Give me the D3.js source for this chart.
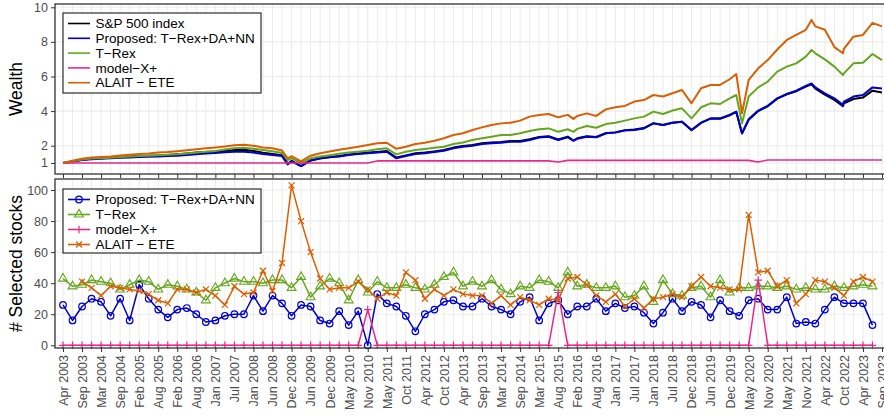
<!DOCTYPE html>
<html>
<head>
<meta charset="utf-8">
<script src="https://d3js.org/d3.v7.min.js"></script>
<style>
  body { margin: 0; background: #fff; }
  svg { display: block; font-family: "Liberation Sans", Arial, Helvetica, sans-serif; }
</style>
</head>
<body>
<div id="chart"></div>
<script>
// x axis labels, one for every second rebalancing date
const xLabels = ["Apr 2003", "Sep 2003", "Mar 2004", "Sep 2004", "Feb 2005", "Aug 2005",
  "Feb 2006", "Aug 2006", "Jan 2007", "Jul 2007", "Jan 2008", "Jun 2008", "Dec 2008",
  "Jun 2009", "Dec 2009", "May 2010", "Nov 2010", "May 2011", "Oct 2011", "Apr 2012",
  "Oct 2012", "Apr 2013", "Sep 2013", "Mar 2014", "Sep 2014", "Mar 2015", "Aug 2015",
  "Feb 2016", "Aug 2016", "Jan 2017", "Jul 2017", "Jan 2018", "Jul 2018", "Dec 2018",
  "Jun 2019", "Dec 2019", "May 2020", "Nov 2020", "May 2021", "Nov 2021", "Apr 2022",
  "Oct 2022", "Apr 2023", "Sep 2023"];

const wealthTicks = [1, 2, 4, 6, 8, 10];
const stockTicks = [0, 20, 40, 60, 80, 100];

// wealth curves, sampled at (fractional) rebalancing positions
const wealthIdx = [0, 1, 2, 3, 4, 5, 6, 7, 8, 9, 10, 11, 12, 13, 14, 15, 16, 17, 18, 19, 20, 21, 22, 23,
  23.6,
  24, 25, 26, 27, 28, 29, 30, 31, 32, 33, 34, 35, 36, 37, 38, 39, 40, 41, 42, 43, 44, 45, 46, 47, 48, 49, 50, 51, 52, 53,
  53.6,
  54, 55, 56, 57, 58, 59, 60, 61, 62, 63, 64, 65, 66, 67, 68, 69, 70,
  70.7, 71.3,
  72, 73, 74, 75, 76, 77, 78,
  78.6, 79, 80, 81, 81.9,
  82, 83, 84, 85, 86];

const wealthSP = [1.0, 1.08, 1.18, 1.25, 1.28, 1.3, 1.34, 1.38, 1.4, 1.42, 1.44, 1.46, 1.5, 1.55, 1.6, 1.64, 1.66, 1.7, 1.75, 1.76, 1.7, 1.6, 1.52, 1.45,
  0.95,
  1.12, 0.82, 1.15, 1.27, 1.35, 1.4, 1.49, 1.55, 1.6, 1.64, 1.69, 1.32, 1.44, 1.56, 1.6, 1.67, 1.75, 1.89, 1.98, 2.04, 2.14, 2.18, 2.21, 2.27, 2.27, 2.37, 2.5, 2.55, 2.36, 2.52,
  2.3,
  2.43, 2.54, 2.5, 2.72, 2.77, 2.9, 2.93, 3.02, 3.3, 3.2, 3.33, 3.38, 2.9, 3.32, 3.56, 3.56, 3.76,
  3.95, 2.7,
  3.5, 4.0, 4.28, 4.72, 4.97, 5.15, 5.42,
  5.55, 5.3, 4.95, 4.65, 4.28,
  4.45, 4.7, 4.78, 5.18, 5.08];

const wealthProposed = [1.0, 1.08, 1.17, 1.22, 1.25, 1.27, 1.3, 1.32, 1.34, 1.36, 1.38, 1.4, 1.42, 1.46, 1.5, 1.55, 1.58, 1.62, 1.65, 1.65, 1.6, 1.52, 1.46, 1.4,
  0.92,
  1.1, 0.82, 1.15, 1.26, 1.33, 1.37, 1.46, 1.52, 1.56, 1.6, 1.65, 1.27, 1.4, 1.52, 1.56, 1.63, 1.71, 1.85, 1.94, 2.0, 2.1, 2.14, 2.17, 2.23, 2.23, 2.33, 2.47, 2.52, 2.33, 2.49,
  2.28,
  2.4, 2.52, 2.49, 2.72, 2.76, 2.88, 2.91, 3.0, 3.29, 3.2, 3.33, 3.39, 2.91, 3.33, 3.58, 3.58, 3.78,
  3.97, 2.72,
  3.53, 4.03, 4.3, 4.74, 4.99, 5.18, 5.45,
  5.6, 5.37, 5.03, 4.74, 4.36,
  4.55, 4.84, 4.93, 5.37, 5.3];

const wealthTRex = [1.0, 1.1, 1.2, 1.26, 1.28, 1.3, 1.35, 1.38, 1.4, 1.42, 1.45, 1.47, 1.5, 1.55, 1.6, 1.65, 1.7, 1.78, 1.85, 1.88, 1.82, 1.75, 1.68, 1.58,
  1.17,
  1.27, 1.0, 1.27, 1.37, 1.45, 1.53, 1.6, 1.65, 1.71, 1.79, 1.85, 1.5, 1.65, 1.75, 1.81, 1.88, 1.94, 2.1, 2.19, 2.33, 2.43, 2.52, 2.62, 2.62, 2.72, 2.85, 2.95, 3.0, 2.81, 2.95,
  2.8,
  2.97, 3.14, 3.04, 3.25, 3.33, 3.45, 3.58, 3.68, 3.97, 3.83, 4.03, 4.16, 3.58, 4.22, 4.45, 4.41, 4.74,
  4.93, 3.29,
  4.84, 5.37, 5.7, 6.28, 6.57, 6.76, 7.15,
  7.53, 7.34, 6.99, 6.57, 6.09,
  6.18, 6.76, 6.8, 7.3, 6.95];

const wealthModelX = [1.0, 1.0, 1.0, 1.0, 1.0, 1.0, 1.0, 1.0, 1.0, 1.0, 1.0, 1.0, 1.0, 1.0, 1.0, 1.0, 1.0, 1.0, 1.0, 1.0, 1.0, 1.0, 1.0, 1.0,
  1.0,
  1.0, 1.0, 1.0, 1.0, 1.0, 1.0, 1.0, 1.0, 1.0, 1.12, 1.12, 1.12, 1.12, 1.12, 1.12, 1.12, 1.12, 1.12, 1.12, 1.12, 1.12, 1.12, 1.12, 1.12, 1.12, 1.12, 1.12, 1.12, 1.06, 1.15,
  1.15,
  1.15, 1.15, 1.15, 1.15, 1.15, 1.15, 1.15, 1.15, 1.15, 1.15, 1.15, 1.15, 1.15, 1.15, 1.15, 1.15, 1.15,
  1.15, 1.15,
  1.15, 1.06, 1.17, 1.17, 1.17, 1.17, 1.17,
  1.17, 1.17, 1.17, 1.17, 1.17,
  1.17, 1.17, 1.17, 1.17, 1.17];

const wealthALAIT = [1.0, 1.13, 1.25, 1.32, 1.35, 1.38, 1.44, 1.48, 1.52, 1.55, 1.6, 1.63, 1.68, 1.74, 1.8, 1.85, 1.9, 1.96, 2.02, 2.06, 2.0, 1.9, 1.85, 1.72,
  1.27,
  1.4, 1.1, 1.42, 1.56, 1.66, 1.76, 1.85, 1.94, 2.04, 2.14, 2.17, 1.82, 1.94, 2.1, 2.17, 2.29, 2.43, 2.62, 2.72, 2.91, 3.06, 3.2, 3.29, 3.33, 3.45, 3.68, 3.78, 3.83, 3.64, 3.78,
  3.55,
  3.72, 3.87, 3.72, 4.1, 4.22, 4.3, 4.55, 4.64, 4.93, 4.84, 5.03, 5.22, 4.45, 5.32, 5.51, 5.51, 5.84,
  6.14, 3.87,
  5.8, 6.47, 6.95, 7.56, 8.11, 8.4, 8.7,
  9.27, 8.9, 8.7, 7.7, 7.34,
  7.6, 8.3, 8.4, 9.1, 8.9];

// number of selected stocks at each rebalancing (index 0..85)
const stocksProposed = [26, 16, 25, 30, 28, 19, 30, 16, 39, 30, 23, 18, 23, 24, 20, 15, 16, 19, 20, 20,
  32, 22, 32, 27, 19, 26, 25, 16, 14, 22, 13, 22, 0, 33, 27, 25, 19, 9, 20, 23,
  28, 29, 25, 25, 30, 25, 23, 20, 28, 31, 16, 27, 29, 20, 25, 25, 30, 22, 27, 24,
  25, 21, 14, 21, 30, 22, 28, 26, 18, 29, 22, 19, 29, 30, 23, 23, 31, 14, 15, 14,
  23, 31, 27, 27, 27, 13];

const stocksTRex = [43, 38, 39, 42, 41, 40, 36, 39, 42, 41, 36, 39, 38, 36, 34, 29, 37, 40, 43, 41,
  41, 40, 42, 42, 37, 44, 31, 38, 43, 40, 29, 42, 34, 41, 37, 37, 39, 37, 36, 39,
  44, 47, 38, 41, 38, 42, 36, 33, 38, 37, 42, 41, 37, 47, 38, 39, 37, 37, 38, 31,
  32, 38, 28, 42, 33, 32, 37, 38, 31, 42, 34, 37, 37, 38, 38, 37, 38, 36, 37, 36,
  36, 38, 37, 38, 39, 38];

const stocksModelX = [0, 0, 0, 0, 0, 0, 0, 0, 0, 0, 0, 0, 0, 0, 0, 0, 0, 0, 0, 0,
  0, 0, 0, 0, 0, 0, 0, 0, 0, 0, 0, 0, 23, 0, 0, 0, 0, 0, 0, 0,
  0, 0, 0, 0, 0, 0, 0, 0, 0, 0, 0, 0, 34, 0, 0, 0, 0, 0, 0, 0,
  0, 0, 0, 0, 0, 0, 0, 0, 0, 0, 0, 0, 0, 42, 0, 0, 0, 0, 0, 0,
  0, 0, 0, 0, 0, 0];

const stocksALAIT = [null, null, 41, 37, 32, 38, 37, 36, 35, 33, 29, 27, 36, 36, 34, 36, 32, 26, 38, 33,
  34, 48, 35, 53, 103, 80, 60, 43, 36, 37, 37, 41, 36, 30, 34, 32, 47, 42, 30, 36,
  32, 36, 33, 32, 32, 27, 32, 26, 31, 29, 26, 30, 29, 43, 44, 39, 32, 28, 33, 25,
  30, 24, 30, 31, 33, 31, 38, 44, 38, 37, 36, 36, 84, 47, 48, 38, 42, 27, 33, 42,
  41, 37, 32, 41, 44, 41];

const colors = {
  sp: "#000000",
  proposed: "#0000CD",
  trex: "#66A61E",
  modelx: "#E7298A",
  alait: "#D95F02"
};

const width = 884;
const height = 417;
const left = 55, right = 890;
const top1 = 4, bottom1 = 174;
const top2 = 179, bottom2 = 348;

const svg = d3.select("#chart")
  .append("svg")
  .attr("width", width)
  .attr("height", height);

const x = d3.scaleLinear().domain([-0.84, 86.84]).range([left, right]);
const yTop = d3.scaleLinear().domain([0.364, 10.19]).range([bottom1, top1]);
const yBot = d3.scaleLinear().domain([-1.74, 107.1]).range([bottom2, top2]);

const gridIdx = d3.range(0, 87);
const majorIdx = d3.range(0, 87, 2);

function panelGrid(y, ticks, y0, y1) {
  const g = svg.append("g");
  g.append("rect")
    .attr("x", left).attr("y", y0)
    .attr("width", right - left).attr("height", y1 - y0)
    .attr("fill", "#fff");
  g.selectAll(".vg").data(gridIdx).join("line")
    .attr("x1", (d) => x(d)).attr("x2", (d) => x(d))
    .attr("y1", y0).attr("y2", y1)
    .attr("stroke", "#EBEBEB").attr("stroke-width", 1);
  g.selectAll(".hg").data(ticks).join("line")
    .attr("x1", left).attr("x2", right)
    .attr("y1", (d) => y(d)).attr("y2", (d) => y(d))
    .attr("stroke", "#EBEBEB").attr("stroke-width", 1.1);
}

function styleAxis(g) {
  g.select(".domain").remove();
  g.selectAll(".tick line").attr("stroke", "#333333").attr("stroke-width", 1);
  g.selectAll(".tick text").attr("fill", "#4D4D4D").style("font-size", "12.5px");
}

panelGrid(yTop, wealthTicks, top1, bottom1);
panelGrid(yBot, stockTicks, top2, bottom2);

// ---- top panel: wealth ----
const wealthLine = d3.line()
  .x((d) => x(d.i))
  .y((d) => yTop(d.v));

const wealthSeries = [
  { key: "sp", name: "S&P 500 index", values: wealthSP },
  { key: "proposed", name: "Proposed: T\u2212Rex+DA+NN", values: wealthProposed },
  { key: "trex", name: "T\u2212Rex", values: wealthTRex },
  { key: "modelx", name: "model\u2212X+", values: wealthModelX },
  { key: "alait", name: "ALAIT \u2212 ETE", values: wealthALAIT }
];

wealthSeries.forEach((s) => {
  svg.append("path")
    .datum(s.values.map((v, k) => ({ i: wealthIdx[k], v })))
    .attr("fill", "none")
    .attr("stroke", colors[s.key])
    .attr("stroke-width", s.key === "modelx" ? 1.6 : 2)
    .attr("stroke-linejoin", "round")
    .attr("d", wealthLine);
});

// ---- bottom panel: number of selected stocks ----
const stockLine = d3.line()
  .defined((d) => d.v != null)
  .x((d) => x(d.i))
  .y((d) => yBot(d.v));

const markers = {
  circle: (g, c) => g.append("circle").attr("r", 3.3).attr("fill", "none")
    .attr("stroke", c).attr("stroke-width", 1.2),
  triangle: (g, c) => g.append("path").attr("d", d3.symbol(d3.symbolTriangle, 34)())
    .attr("fill", "none").attr("stroke", c).attr("stroke-width", 1.1),
  plus: (g, c) => g.append("path").attr("d", "M-3.8,0H3.8M0,-3.8V3.8")
    .attr("stroke", c).attr("stroke-width", 1.2),
  cross: (g, c) => g.append("path").attr("d", "M-3,-3L3,3M-3,3L3,-3")
    .attr("stroke", c).attr("stroke-width", 1.2)
};

const stockSeries = [
  { key: "proposed", name: "Proposed: T\u2212Rex+DA+NN", values: stocksProposed, shape: "circle" },
  { key: "trex", name: "T\u2212Rex", values: stocksTRex, shape: "triangle" },
  { key: "modelx", name: "model\u2212X+", values: stocksModelX, shape: "plus" },
  { key: "alait", name: "ALAIT \u2212 ETE", values: stocksALAIT, shape: "cross" }
];

stockSeries.forEach((s) => {
  const pts = s.values.map((v, i) => ({ i, v }));
  svg.append("path")
    .datum(pts)
    .attr("fill", "none")
    .attr("stroke", colors[s.key])
    .attr("stroke-width", 1.5)
    .attr("stroke-linejoin", "round")
    .attr("d", stockLine);
  pts.filter((d) => d.v != null).forEach((d) => {
    const g = svg.append("g").attr("transform", `translate(${x(d.i)},${yBot(d.v)})`);
    markers[s.shape](g, colors[s.key]);
  });
});

// ---- axes ----
svg.append("g")
  .attr("transform", `translate(${left},0)`)
  .call(d3.axisLeft(yTop).tickValues(wealthTicks).tickSize(4).tickPadding(3))
  .call(styleAxis);

svg.append("g")
  .attr("transform", `translate(${left},0)`)
  .call(d3.axisLeft(yBot).tickValues(stockTicks).tickSize(4).tickPadding(3))
  .call(styleAxis);

svg.append("g")
  .attr("transform", `translate(0,${bottom1})`)
  .call(d3.axisBottom(x).tickValues(majorIdx).tickSize(4).tickFormat(""))
  .call(styleAxis);

const xAxis = svg.append("g")
  .attr("transform", `translate(0,${bottom2})`)
  .call(d3.axisBottom(x).tickValues(majorIdx).tickSize(4)
    .tickFormat((d) => xLabels[d / 2]))
  .call(styleAxis);

xAxis.selectAll(".tick text")
  .attr("transform", "rotate(-90)")
  .attr("x", -7)
  .attr("y", 0)
  .attr("dy", "0.35em")
  .style("text-anchor", "end");

// panel borders
[[top1, bottom1], [top2, bottom2]].forEach(([y0, y1]) => {
  svg.append("rect")
    .attr("x", left).attr("y", y0)
    .attr("width", right - left).attr("height", y1 - y0)
    .attr("fill", "none")
    .attr("stroke", "#333333")
    .attr("stroke-width", 1.3);
});

// axis titles
svg.append("text")
  .attr("transform", `translate(22,${(top1 + bottom1) / 2}) rotate(-90)`)
  .attr("text-anchor", "middle")
  .style("font-size", "17.5px")
  .text("Wealth");

svg.append("text")
  .attr("transform", `translate(22,${(top2 + bottom2) / 2}) rotate(-90)`)
  .attr("text-anchor", "middle")
  .style("font-size", "17.5px")
  .text("# Selected stocks");

// ---- legends ----
function legend(series, x0, y0, w, h, rowY, step, withMarkers) {
  const g = svg.append("g");
  g.append("rect")
    .attr("x", x0).attr("y", y0).attr("width", w).attr("height", h)
    .attr("fill", "#fff").attr("stroke", "#1a1a1a").attr("stroke-width", 1.1);
  series.forEach((s, k) => {
    const yy = rowY + k * step;
    g.append("line")
      .attr("x1", 68).attr("x2", 90).attr("y1", yy).attr("y2", yy)
      .attr("stroke", colors[s.key]).attr("stroke-width", 1.6);
    if (withMarkers) {
      const m = g.append("g").attr("transform", `translate(79,${yy})`);
      markers[s.shape](m, colors[s.key]);
    }
    g.append("text")
      .attr("x", 95.5).attr("y", yy).attr("dy", "0.35em")
      .style("font-size", "13.5px")
      .text(s.name);
  });
}

legend(wealthSeries, 63, 13, 198, 80, 23.5, 14.8, false);
legend(stockSeries, 63, 189, 198, 64, 199.5, 15, true);
</script>
</body>
</html>
